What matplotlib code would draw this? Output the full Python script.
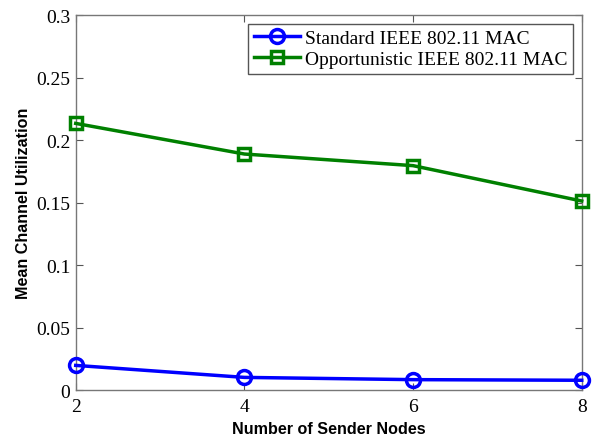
import matplotlib
matplotlib.use("Agg")
import matplotlib.pyplot as plt

nodes = [2, 4, 6, 8]
standard = [0.0197, 0.0101, 0.0083, 0.0078]
opportunistic = [0.2133, 0.1888, 0.1795, 0.1512]
x_ticks = [2, 4, 6, 8]
y_ticks = [0, 0.05, 0.1, 0.15, 0.2, 0.25, 0.3]
y_tick_labels = ["0", "0.05", "0.1", "0.15", "0.2", "0.25", "0.3"]

fig = plt.figure(figsize=(5.93, 4.39), dpi=100)
ax = fig.add_axes([0.1277, 0.1093, 0.8533, 0.8542])

ax.plot(nodes, standard, color=(0, 0, 1), lw=2.5, marker='o', ms=10,
        mfc='none', mew=2.5, label='Standard IEEE 802.11 MAC', clip_on=False, zorder=3)
ax.plot(nodes, opportunistic, color=(0, 0.5, 0), lw=2.5, marker='s', ms=8,
        mfc='none', mew=2.5, label='Opportunistic IEEE 802.11 MAC', clip_on=False, zorder=3)

ax.set_xlim(2, 8)
ax.set_ylim(0, 0.3)
ax.set_xticks(x_ticks)
ax.set_yticks(y_ticks)
ax.set_yticklabels(y_tick_labels)
ax.tick_params(direction='in', top=True, right=True, length=5, width=0.8,
               color='#555555', labelsize=14)
ax.tick_params(axis='x', pad=6)
ax.tick_params(axis='y', pad=4)
for lab in ax.get_xticklabels() + ax.get_yticklabels():
    lab.set_fontfamily('Liberation Serif')
for s in ax.spines.values():
    s.set_color('#777777')
    s.set_linewidth(1.0)

ax.set_xlabel('Number of Sender Nodes', fontsize=11.6, fontweight='bold',
              family='Liberation Sans', labelpad=4)
ax.set_ylabel('Mean Channel Utilization', fontsize=11.6, fontweight='bold',
              family='Liberation Sans', labelpad=4)

leg = ax.legend(loc='upper right', prop={'family': 'Liberation Serif', 'size': 14},
                fancybox=False, edgecolor='#555555', framealpha=1,
                borderaxespad=0.45, handlelength=2.37, borderpad=0.3,
                labelspacing=0.15, handletextpad=0.26)
leg.get_frame().set_linewidth(1.0)

fig.savefig('out.png', dpi=100)
